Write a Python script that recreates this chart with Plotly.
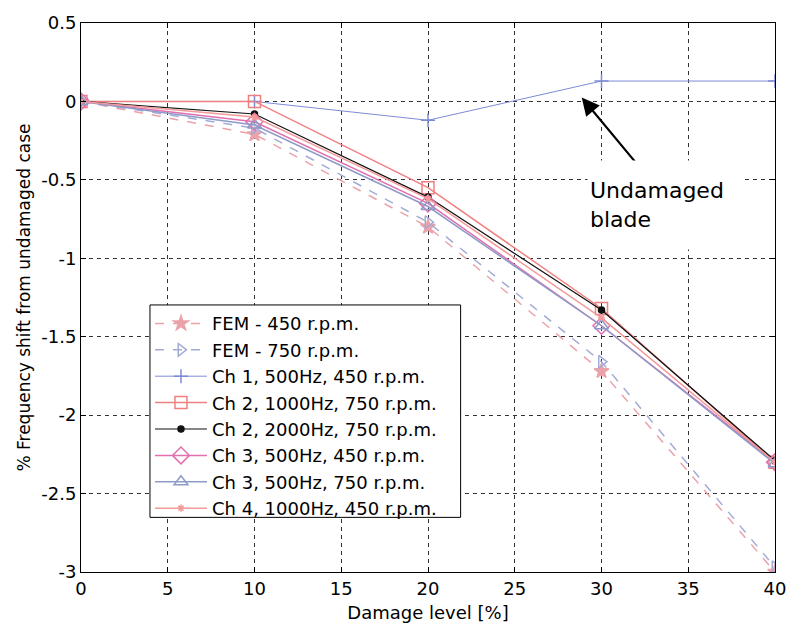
import plotly.graph_objects as go

damage = [0, 10, 20, 30, 40]

fem_450 = [0, -0.21, -0.80, -1.72, -3.00]
fem_750 = [0, -0.17, -0.77, -1.66, -2.97]
ch1_500_450 = [0, 0.00, -0.12, 0.13, 0.13]
ch2_1000_750 = [0, 0.00, -0.55, -1.32, -2.30]
ch2_2000_750 = [0, -0.08, -0.61, -1.33, -2.29]
ch3_500_450 = [0, -0.13, -0.65, -1.43, -2.30]
ch3_500_750 = [0, -0.15, -0.67, -1.43, -2.31]
ch4_1000_450 = [0, -0.10, -0.62, -1.38, -2.30]

x_ticks = [0, 5, 10, 15, 20, 25, 30, 35, 40]
y_ticks = [0.5, 0, -0.5, -1, -1.5, -2, -2.5, -3]
y_tick_text = ["0.5", "0", "-0.5", "-1", "-1.5", "-2", "-2.5", "-3"]

FONT = "DejaVu Sans, Liberation Sans, Arial, sans-serif"

series = [
    ("FEM - 450 r.p.m.", fem_450, "#eba2a8", "dash", 1.5, "star", 11),
    ("FEM - 750 r.p.m.", fem_750, "#a3acd6", "dash", 1.5, "triangle-right-open", 11),
    ("Ch 1, 500Hz, 450 r.p.m.", ch1_500_450, "#7d8bd6", "solid", 1, "cross-thin-open", 10),
    ("Ch 2, 1000Hz, 750 r.p.m.", ch2_1000_750, "#f08080", "solid", 1.5, "square-open", 12),
    ("Ch 2, 2000Hz, 750 r.p.m.", ch2_2000_750, "#111111", "solid", 1.2, "circle", 6),
    ("Ch 3, 500Hz, 450 r.p.m.", ch3_500_450, "#e070ae", "solid", 1.5, "diamond-open", 13),
    ("Ch 3, 500Hz, 750 r.p.m.", ch3_500_750, "#8d9bc9", "solid", 1.5, "triangle-up-open", 12),
    ("Ch 4, 1000Hz, 450 r.p.m.", ch4_1000_450, "#f39a9a", "solid", 1.5, "asterisk-open", 6),
]

fig = go.Figure()
for name, vals, color, dash, width, symbol, size in series:
    fig.add_trace(go.Scatter(
        x=damage, y=vals, name=name, mode="lines+markers",
        line=dict(color=color, dash=dash, width=width),
        marker=dict(symbol=symbol, size=size, color=color,
                    line=dict(color=color, width=1.5)),
    ))

axis_common = dict(
    showline=True, linecolor="black", linewidth=1, mirror="ticks",
    ticks="inside", ticklen=5, tickcolor="black",
    showgrid=True, gridcolor="#333333", gridwidth=1, griddash="4px,4px",
    zeroline=False, tickfont=dict(family=FONT, size=18, color="black"),
)

fig.update_xaxes(range=[0, 40], tickvals=x_ticks,
                 title=dict(text="Damage level [%]", font=dict(family=FONT, size=18, color="black"), standoff=8),
                 **axis_common)
fig.update_yaxes(range=[-3, 0.5], tickvals=y_ticks, ticktext=y_tick_text,
                 title=dict(text="% Frequency shift from undamaged case", font=dict(family=FONT, size=17, color="black"), standoff=6),
                 **axis_common)

fig.add_annotation(x=28.86, y=0.025, ax=32.05, ay=-0.40, xref="x", yref="y", axref="x", ayref="y",
                   text="", showarrow=True, arrowhead=2, arrowsize=1.6, arrowwidth=2.2, arrowcolor="black")
fig.add_annotation(x=29.15, y=-0.66, xref="x", yref="y", xanchor="left", yanchor="middle",
                   text="Undamaged<br>blade", showarrow=False, align="left", bgcolor="white",
                   width=150, height=84, borderpad=2,
                   font=dict(family=FONT, size=22, color="black"))

# legend frame (box drawn as a shape so its size matches the original)
fig.add_shape(type="rect", xref="paper", yref="paper",
              x0=0.0994, x1=0.547, y0=0.0995, y1=0.4864,
              line=dict(color="black", width=1), fillcolor="white", layer="above")

fig.update_layout(
    width=798, height=634,
    margin=dict(l=81, r=13, t=19, b=62),
    paper_bgcolor="white", plot_bgcolor="white",
    showlegend=True,
    legend=dict(x=0.0994, y=0.486, xanchor="left", yanchor="top",
                bgcolor="rgba(0,0,0,0)", borderwidth=0,
                font=dict(family=FONT, size=18, color="black"),
                tracegroupgap=0, itemwidth=52),
)

fig.write_html("out.html")
